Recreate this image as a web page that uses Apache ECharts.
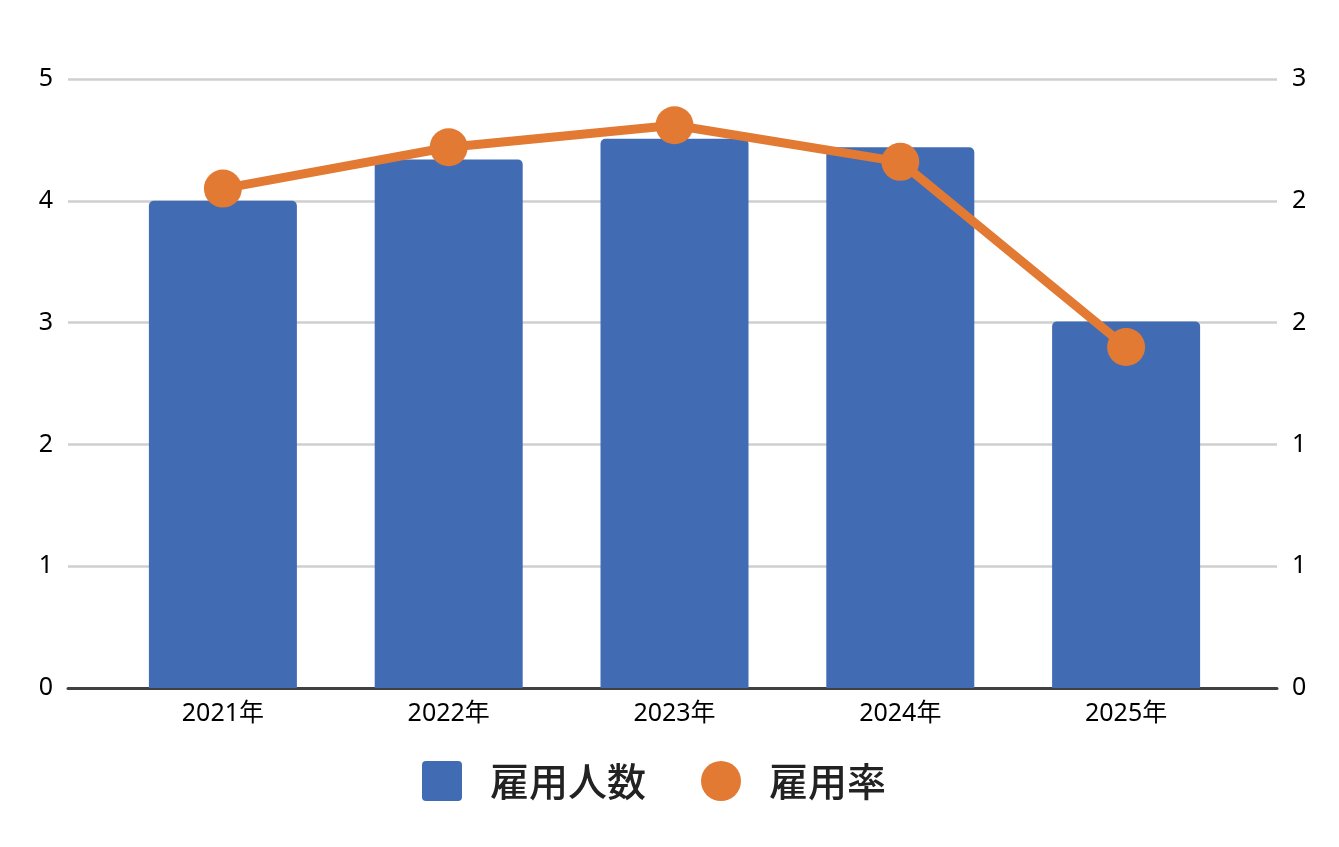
<!DOCTYPE html>
<html>
<head>
<meta charset="utf-8">
<script src="https://cdn.jsdelivr.net/npm/echarts@6/dist/echarts.min.js"></script>
<style>
  html, body { margin: 0; padding: 0; background: #fff; }
  #chart { width: 1339px; height: 847px; }
</style>
</head>
<body>
<div id="chart"></div>
<script>
  const categories = ['2021年', '2022年', '2023年', '2024年', '2025年'];
  const employees = [4.0, 4.34, 4.51, 4.44, 3.01];
  const employmentRate = [2.05, 2.22, 2.31, 2.16, 1.40];

  const blue = '#416cb4';
  const orange = '#e27a33';
  const font = '"Noto Sans", "Noto Sans CJK JP", sans-serif';
  const cjkFont = '"Noto Sans CJK JP", sans-serif';

  function tickText() {
    return { color: '#000', fontSize: 25, fontFamily: font };
  }

  const chart = echarts.init(document.getElementById('chart'), null, { renderer: 'canvas' });

  chart.setOption({
    animation: false,
    textStyle: { fontFamily: font },
    legend: {
      left: 422,
      top: 761,
      padding: 0,
      itemWidth: 40,
      itemHeight: 40,
      itemGap: 55,
      textStyle: { fontSize: 39, fontWeight: 500, color: '#222', fontFamily: cjkFont, padding: [0, 0, 0, 23] },
      data: [
        { name: '雇用人数', icon: 'path://M1,0H9A1,1 0 0 1 10,1V9A1,1 0 0 1 9,10H1A1,1 0 0 1 0,9V1A1,1 0 0 1 1,0Z' },
        { name: '雇用率', icon: 'circle' },
      ],
    },
    grid: [
      { left: 68, right: 62, top: 79, bottom: 159 },
      { left: 110, right: 100, top: 79, bottom: 159 },
    ],
    xAxis: [
      {
        gridIndex: 0, type: 'value', min: 0, max: 1,
        axisLine: { show: true, onZero: false, lineStyle: { color: '#404040', width: 3 } },
        axisTick: { show: false }, axisLabel: { show: false }, splitLine: { show: false },
      },
      {
        gridIndex: 1, type: 'category', data: categories,
        axisLine: { show: false }, axisTick: { show: false },
        axisLabel: { ...tickText(), margin: 13 },
      },
    ],
    yAxis: [
      {
        gridIndex: 0, type: 'value', min: 0, max: 5, interval: 1, position: 'left',
        axisLine: { show: false }, axisTick: { show: false },
        axisLabel: { ...tickText(), margin: 15 },
        splitLine: { lineStyle: { color: '#cfcfcf', width: 2.5 } },
      },
      {
        gridIndex: 0, type: 'value', min: 0, max: 2.5, interval: 0.5, position: 'right',
        axisLine: { show: false }, axisTick: { show: false },
        axisLabel: { ...tickText(), margin: 15, formatter: (v) => String(Math.round(v)) },
        splitLine: { show: false },
      },
      { gridIndex: 1, type: 'value', min: 0, max: 5, show: false },
      { gridIndex: 1, type: 'value', min: 0, max: 2.5, show: false },
    ],
    series: [
      {
        name: '雇用人数',
        type: 'bar',
        xAxisIndex: 1,
        yAxisIndex: 2,
        barWidth: 148,
        itemStyle: { color: blue, borderRadius: [5, 5, 0, 0] },
        data: employees,
      },
      {
        name: '雇用率',
        type: 'line',
        xAxisIndex: 1,
        yAxisIndex: 3,
        symbol: 'circle',
        symbolSize: 38,
        lineStyle: { color: orange, width: 9 },
        itemStyle: { color: orange },
        data: employmentRate,
      },
    ],
  });
</script>
</body>
</html>
